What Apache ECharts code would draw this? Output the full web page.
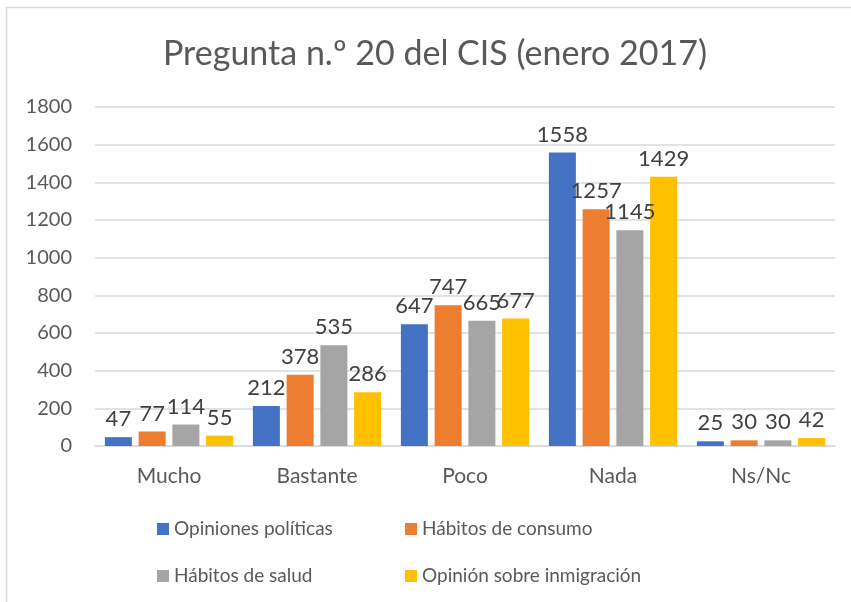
<!DOCTYPE html>
<html>
<head>
<meta charset="utf-8">
<script src="https://cdn.jsdelivr.net/npm/echarts@6/dist/echarts.min.js"></script>
<style>
  html, body { margin: 0; padding: 0; background: #fff; }
  #chart { width: 851px; height: 602px; }
</style>
</head>
<body>
<div id="chart"></div>
<script>
var categories = ['Mucho', 'Bastante', 'Poco', 'Nada', 'Ns/Nc'];
var seriesNames = ['Opiniones políticas', 'Hábitos de consumo', 'Hábitos de salud', 'Opinión sobre inmigración'];
var opinionesPoliticas = [47, 212, 647, 1558, 25];
var habitosConsumo = [77, 378, 747, 1257, 30];
var habitosSalud = [114, 535, 665, 1145, 30];
var opinionInmigracion = [55, 286, 677, 1429, 42];
var colors = ['#4472C4', '#ED7D31', '#A5A5A5', '#FFC000'];

var font = 'Lato';
var allValues = [opinionesPoliticas, habitosConsumo, habitosSalud, opinionInmigracion];

var myChart = echarts.init(document.getElementById('chart'), null, { renderer: 'canvas' });

var series = allValues.map(function (vals, i) {
    return {
        name: seriesNames[i],
        type: 'bar',
        data: vals,
        barWidth: 27,
        barGap: '25%',
        itemStyle: { color: colors[i] },
        label: {
            show: true,
            position: 'top',
            distance: 7,
            fontFamily: font,
            fontSize: 22,
            color: '#404040'
        }
    };
});

var legendCommon = {
    orient: 'vertical',
    icon: 'rect',
    itemWidth: 12,
    itemHeight: 12,
    itemGap: 27,
    top: 514,
    textStyle: { fontFamily: font, fontSize: 19, color: '#595959', lineHeight: 20 }
};

var option = {
    animation: false,
    color: colors,
    title: {
        text: 'Pregunta n.º 20 del CIS (enero 2017)',
        left: 158,
        top: 32,
        textStyle: { fontFamily: font, fontSize: 34, fontWeight: 'normal', color: '#595959' }
    },
    legend: [
        Object.assign({ left: 152, data: [seriesNames[0], seriesNames[2]] }, legendCommon),
        Object.assign({ left: 400, data: [seriesNames[1], seriesNames[3]] }, legendCommon)
    ],
    grid: { left: 95, right: 16, top: 107, bottom: 156 },
    xAxis: {
        type: 'category',
        data: categories,
        axisLine: { lineStyle: { color: '#d9d9d9', width: 1.5 } },
        axisTick: { show: false },
        axisLabel: { fontFamily: font, fontSize: 21, color: '#595959', margin: 20 }
    },
    yAxis: {
        type: 'value',
        min: 0,
        max: 1800,
        interval: 200,
        axisLine: { show: false },
        axisTick: { show: false },
        splitLine: { lineStyle: { color: '#d9d9d9', width: 1.5 } },
        axisLabel: {
            fontFamily: font, fontSize: 20, color: '#595959', margin: 23,
            formatter: function (v) { return String(v); }
        }
    },
    graphic: [{
        type: 'rect',
        shape: { x: 6.5, y: 7.5, width: 900, height: 700 },
        style: { fill: null, stroke: '#d9d9d9', lineWidth: 1.5 },
        silent: true
    }],
    series: series
};

myChart.setOption(option);
window.addEventListener('resize', myChart.resize);
</script>
</body>
</html>
